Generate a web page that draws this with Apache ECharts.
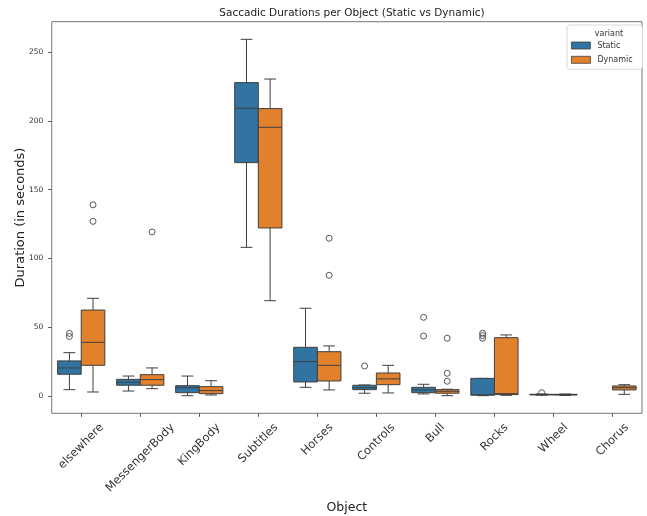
<!DOCTYPE html>
<html><head><meta charset="utf-8">
<script src="https://cdn.jsdelivr.net/npm/echarts@6/dist/echarts.min.js"></script>
<style>html,body{margin:0;padding:0;background:#fff}#c{width:647px;height:516px}</style>
</head><body><div id="c"></div>
<script>
// ---- data ----
const categories = ['elsewhere','MessengerBody','KingBody','Subtitles','Horses','Controls','Bull','Rocks','Wheel','Chorus'];
// [min(whisker), q1, median, q3, max(whisker)]
const staticBoxes = [
  [4.6, 15.8, 20.4, 25.5, 31.5],
  [3.6, 7.8, 10.0, 12.1, 14.5],
  [0.2, 2.4, 6.0, 7.5, 14.5],
  [108.1, 169.7, 209.2, 227.9, 259.4],
  [6.3, 10.2, 25.0, 35.4, 63.8],
  [2.0, 4.6, 6.0, 7.8, 8.0],
  [1.5, 2.4, 4.4, 6.3, 8.5],
  [0.2, 0.6, 0.9, 12.8, 12.8],
  [0.6, 0.8, 1.0, 1.2, 1.5],
  null
];
const dynamicBoxes = [
  [2.9, 22.3, 39.0, 62.5, 71.0],
  [5.3, 7.8, 11.9, 15.5, 20.4],
  [0.7, 1.7, 3.9, 6.8, 11.1],
  [69.3, 122.2, 195.4, 209.0, 230.5],
  [4.4, 10.9, 22.3, 32.2, 36.4],
  [2.2, 8.2, 12.4, 16.7, 22.3],
  [0.2, 2.0, 3.4, 4.6, 4.9],
  [0.5, 1.0, 1.7, 42.4, 44.4],
  [0.4, 0.7, 1.0, 1.2, 1.4],
  [1.2, 4.4, 6.0, 7.3, 8.2]
];
// [category index, value]
const staticOutliers = [[0,45.5],[0,43.3],[5,21.8],[6,57.2],[6,43.6],[7,45.6],[7,43.9],[7,42.0],[8,2.4]];
const dynamicOutliers = [[0,139.0],[0,127.0],[1,119.3],[4,114.7],[4,87.8],[6,42.0],[6,16.5],[6,10.7]];
const yTicks = [0, 50, 100, 150, 200, 250];
const seriesNames = ['Static', 'Dynamic'];

// ---- styling ----
const FONT = 'DejaVu Sans';
const COLORS = ['#3274a1', '#e1812c'];
const LINE = '#3f3f3f';
const LABEL_SIZE = 11.5, LABEL_LH = 13.5, LABEL_PAD = 7.5;

// rotated labels centred under the tick (matplotlib ha='center')
const ctx = document.createElement('canvas').getContext('2d');
ctx.font = LABEL_SIZE + 'px "' + FONT + '"';
const rich = {};
categories.forEach((c, i) => {
  const L = ctx.measureText(c).width;
  const D = LABEL_PAD + (L + LABEL_LH) / (2 * Math.SQRT2);
  const p = Math.SQRT2 * D;
  rich['c' + i] = {padding: [p, p, 0, 0], fontSize: LABEL_SIZE, lineHeight: LABEL_LH, fontFamily: FONT, color: '#333'};
});

function boxRows(boxes) {
  const rows = [];
  boxes.forEach((b, i) => { if (b) rows.push([i].concat(b)); });
  return rows;
}

function boxRenderer(side, fill) {
  return function (params, api) {
    const i = api.value(0);
    const v = [1,2,3,4,5].map(k => api.value(k));
    const center = api.coord([i, 0])[0];
    const band = api.size([1, 0])[0];
    const w = band * 0.4;
    const cx = center + side * w / 2;
    const py = val => api.coord([i, val])[1];
    const ls = {stroke: LINE, lineWidth: 1};
    return {type: 'group', children: [
      {type: 'line', shape: {x1: cx, y1: py(v[0]), x2: cx, y2: py(v[1])}, style: ls},
      {type: 'line', shape: {x1: cx, y1: py(v[3]), x2: cx, y2: py(v[4])}, style: ls},
      {type: 'line', shape: {x1: cx - w/4, y1: py(v[0]), x2: cx + w/4, y2: py(v[0])}, style: ls},
      {type: 'line', shape: {x1: cx - w/4, y1: py(v[4]), x2: cx + w/4, y2: py(v[4])}, style: ls},
      {type: 'rect', shape: {x: cx - w/2, y: py(v[3]), width: w, height: py(v[1]) - py(v[3])}, style: {fill: fill, stroke: LINE, lineWidth: 1}},
      {type: 'line', shape: {x1: cx - w/2, y1: py(v[2]), x2: cx + w/2, y2: py(v[2])}, style: ls}
    ]};
  };
}

function outlierRenderer(side) {
  return function (params, api) {
    const i = api.value(0);
    const center = api.coord([i, 0])[0];
    const band = api.size([1, 0])[0];
    const cx = center + side * band * 0.2;
    const cy = api.coord([i, api.value(1)])[1];
    return {type: 'circle', shape: {cx: cx, cy: cy, r: 3}, style: {fill: 'none', stroke: '#555', lineWidth: 1}};
  };
}

const chart = echarts.init(document.getElementById('c'), null, {renderer: 'canvas'});
chart.setOption({
  animation: false,
  backgroundColor: '#fff',
  textStyle: {fontFamily: FONT},
  title: [
    {text: 'Saccadic Durations per Object (Static vs Dynamic)', left: 347, top: 3, textAlign: 'center',
     textStyle: {fontFamily: FONT, fontSize: 10.5, fontWeight: 'normal', color: '#222'}},
    {text: 'variant', left: 604, top: 25, textAlign: 'center',
     textStyle: {fontFamily: FONT, fontSize: 8, fontWeight: 'normal', color: '#333'}}
  ],
  legend: {
    data: seriesNames, orient: 'vertical', left: 567, top: 25,
    padding: [15, 5, 4, 4], itemGap: 3.3, itemWidth: 19, itemHeight: 7, icon: 'rect',
    backgroundColor: '#fff', borderColor: '#d9d9d9', borderWidth: 1, borderRadius: 3,
    itemStyle: {borderColor: LINE, borderWidth: 0.8},
    textStyle: {fontFamily: FONT, fontSize: 8, lineHeight: 11, color: '#333', padding: [0, 0, 0, 2], width: 40},
    selectedMode: false
  },
  grid: {left: 51.7, right: 5, top: 21.7, bottom: 102.7, show: true, borderColor: '#777', borderWidth: 1,
         backgroundColor: 'transparent', containLabel: false, outerBoundsMode: 'none'},
  xAxis: {
    type: 'category', data: categories, boundaryGap: true,
    name: 'Object', nameLocation: 'middle', nameGap: 88, nameMoveOverlap: false,
    nameTextStyle: {fontFamily: FONT, fontSize: 12.5, color: '#222'},
    axisLine: {show: false, onZero: false},
    axisTick: {show: true, alignWithLabel: true, length: 3.5, lineStyle: {color: '#555'}},
    axisLabel: {interval: 0, rotate: 45, align: 'center', verticalAlign: 'middle', margin: 0,
      formatter: (v, i) => '{c' + i + '|' + v + '}', rich: rich},
    splitLine: {show: false}
  },
  yAxis: {
    type: 'value', min: -12.6, max: 272.2,
    name: 'Duration (in seconds)', nameLocation: 'middle', nameGap: 25, nameMoveOverlap: false,
    nameTextStyle: {fontFamily: FONT, fontSize: 13, color: '#222'},
    axisLine: {show: false, onZero: false},
    axisTick: {show: true, length: 3.5, lineStyle: {color: '#555'}, customValues: yTicks},
    axisLabel: {fontFamily: FONT, fontSize: 7.5, color: '#333', margin: 8.5, customValues: yTicks},
    splitLine: {show: false}
  },
  series: [
    {name: 'Static', type: 'custom', renderItem: boxRenderer(-1, COLORS[0]), data: boxRows(staticBoxes),
     encode: {x: 0, y: [1,2,3,4,5]}, itemStyle: {color: COLORS[0]}},
    {name: 'Dynamic', type: 'custom', renderItem: boxRenderer(1, COLORS[1]), data: boxRows(dynamicBoxes),
     encode: {x: 0, y: [1,2,3,4,5]}, itemStyle: {color: COLORS[1]}},
    {name: 'Static outliers', type: 'custom', renderItem: outlierRenderer(-1), data: staticOutliers, encode: {x: 0, y: 1}, z: 3},
    {name: 'Dynamic outliers', type: 'custom', renderItem: outlierRenderer(1), data: dynamicOutliers, encode: {x: 0, y: 1}, z: 3}
  ]
});
</script></body></html>
